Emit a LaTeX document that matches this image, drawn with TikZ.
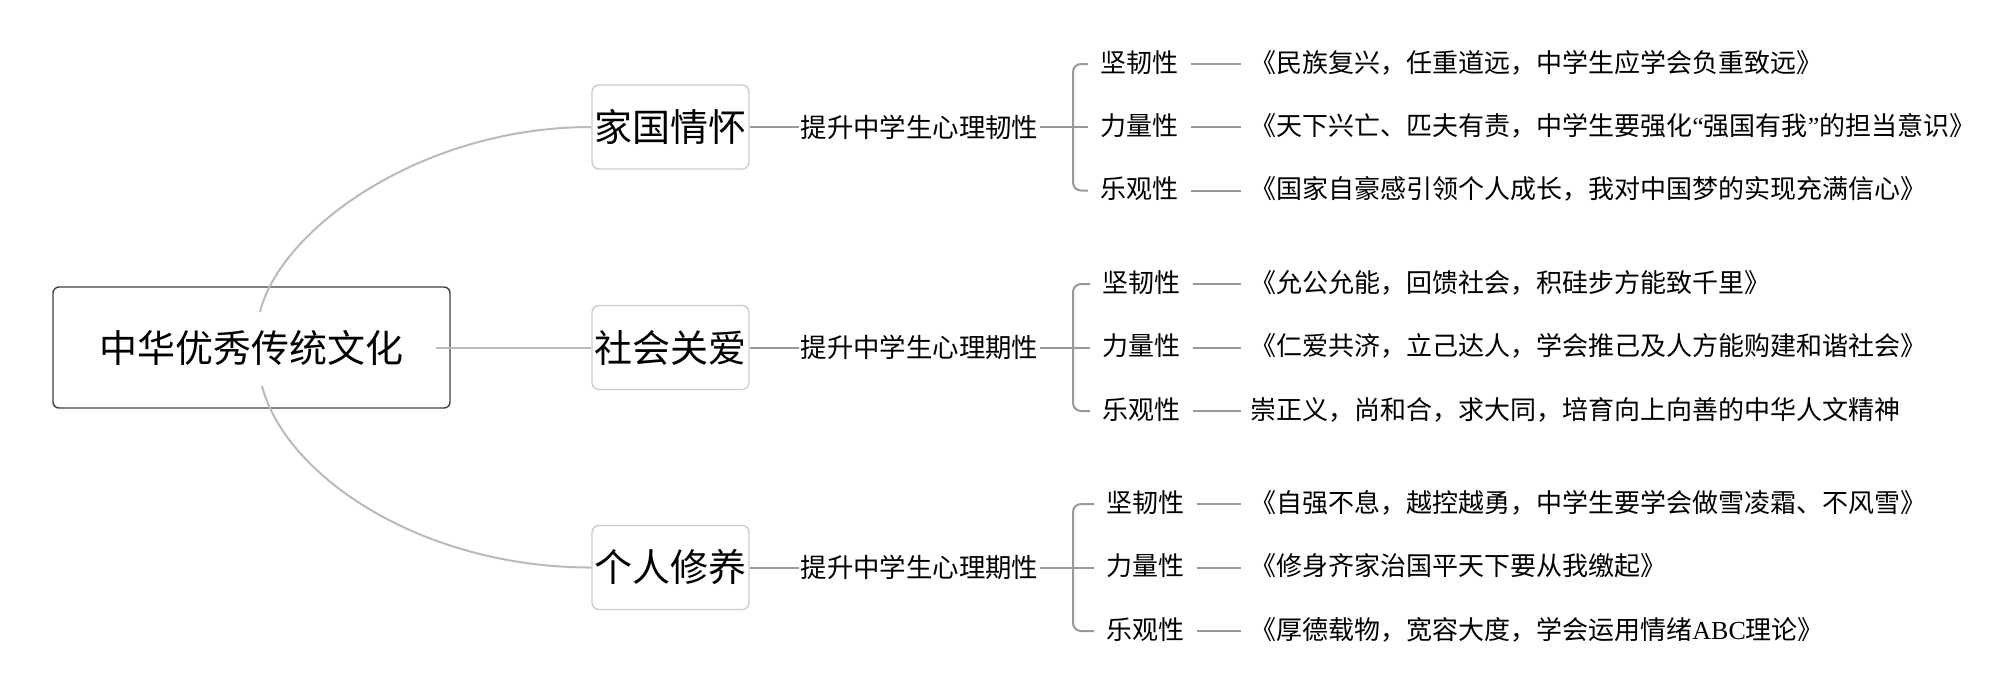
\documentclass[tikz,border=0pt]{standalone}
\usepackage{fontspec}
\setmainfont{Noto Sans CJK SC}
\newfontfamily\latser{Liberation Serif}
\begin{document}
\begin{tikzpicture}[x=0.5pt,y=-0.5pt,
  rootbox/.style={draw=black!75, line width=0.7pt, rounded corners=3pt, minimum width=198.5pt, minimum height=60.5pt, font=\fontsize{19pt}{19pt}\selectfont, inner sep=0pt},
  catbox/.style={draw=black!20, line width=0.7pt, rounded corners=3.5pt, minimum width=78.5pt, minimum height=42pt, font=\fontsize{19pt}{19pt}\selectfont, inner sep=0pt},
  midtext/.style={font=\fontsize{13.2pt}{13.2pt}\selectfont, inner xsep=0.5pt, inner ysep=0pt},
  lab/.style={anchor=west, font=\fontsize{13pt}{13pt}\selectfont, inner xsep=6pt, inner ysep=0pt, text height=0.86em, text depth=0.02em},
  leaf/.style={anchor=west, font=\fontsize{13pt}{13pt}\selectfont, inner xsep=4.5pt, inner ysep=0pt, text height=0.86em, text depth=0.02em},
  curve/.style={draw=black!27, line width=1pt},
  conn/.style={draw=black!40, line width=1pt},
  ]
\useasboundingbox[fill=white] (0,0) rectangle (2000,692);

% root and categories
\node[rootbox] (root) at (251.5,347.5) {中华优秀传统文化};
\node[catbox] (c1) at (670.5,127) {家国情怀};
\node[catbox] (c2) at (670.5,347.5) {社会关爱};
\node[catbox] (c3) at (670.5,567.5) {个人修养};

\coordinate (r1) at (260,312);
\coordinate (r2) at (436,347.5);
\coordinate (r3) at (262,386);

\draw[curve] (r1) .. controls (280,230) and (420,127) .. (c1.west);
\draw[curve] (r2) -- (c2.west);
\draw[curve] (r3) .. controls (285,475) and (420,567.5) .. (c3.west);

% middle texts
\node[midtext] (m1) at (919.5,127) {提升中学生心理韧性};
\node[midtext] (m2) at (919.5,347.5) {提升中学生心理期性};
\node[midtext] (m3) at (919.5,567.5) {提升中学生心理期性};

\draw[conn] (c1.east) -- (m1.west);
\draw[conn] (c2.east) -- (m2.west);
\draw[conn] (c3.east) -- (m3.west);

% group 1
\coordinate (j1) at (1073,127);
\node[lab] (l11) at (1088,64) {坚韧性};
\node[lab] (l12) at (1088,127) {力量性};
\node[lab] (l13) at (1088,190.5) {乐观性};
\node[leaf] (t11) at (1241,64) {《民族复兴，任重道远，中学生应学会负重致远》};
\node[leaf] (t12) at (1241,127) {《天下兴亡、匹夫有责，中学生要强化{\latser “}强国有我{\latser ”}的担当意识》};
\node[leaf] (t13) at (1241,190.5) {《国家自豪感引领个人成长，我对中国梦的实现充满信心》};
\draw[conn] (m1.east) -- (l12.west);
\draw[conn, rounded corners=4pt] (l11.west) -| (j1) |- (l13.west);
\draw[conn] (l11.east) -- (t11.west);
\draw[conn] (l12.east) -- (t12.west);
\draw[conn] (l13.east) -- (t13.west);

% group 2
\coordinate (j2) at (1073,347.5);
\node[lab] (l21) at (1090,284) {坚韧性};
\node[lab] (l22) at (1090,347.5) {力量性};
\node[lab] (l23) at (1090,411) {乐观性};
\node[leaf] (t21) at (1241,284) {《允公允能，回馈社会，积硅步方能致千里》};
\node[leaf] (t22) at (1241,347.5) {《仁爱共济，立己达人，学会推己及人方能购建和谐社会》};
\node[leaf] (t23) at (1241,411) {崇正义，尚和合，求大同，培育向上向善的中华人文精神};
\draw[conn] (m2.east) -- (l22.west);
\draw[conn, rounded corners=4pt] (l21.west) -| (j2) |- (l23.west);
\draw[conn] (l21.east) -- (t21.west);
\draw[conn] (l22.east) -- (t22.west);
\draw[conn] (l23.east) -- (t23.west);

% group 3
\coordinate (j3) at (1073,567.5);
\node[lab] (l31) at (1094,504) {坚韧性};
\node[lab] (l32) at (1094,567.5) {力量性};
\node[lab] (l33) at (1094,631) {乐观性};
\node[leaf] (t31) at (1241,504) {《自强不息，越控越勇，中学生要学会做雪凌霜、不风雪》};
\node[leaf] (t32) at (1241,567.5) {《修身齐家治国平天下要从我缴起》};
\node[leaf] (t33) at (1241,631) {《厚德载物，宽容大度，学会运用情绪{\latser ABC}理论》};
\draw[conn] (m3.east) -- (l32.west);
\draw[conn, rounded corners=4pt] (l31.west) -| (j3) |- (l33.west);
\draw[conn] (l31.east) -- (t31.west);
\draw[conn] (l32.east) -- (t32.west);
\draw[conn] (l33.east) -- (t33.west);
\end{tikzpicture}
\end{document}
